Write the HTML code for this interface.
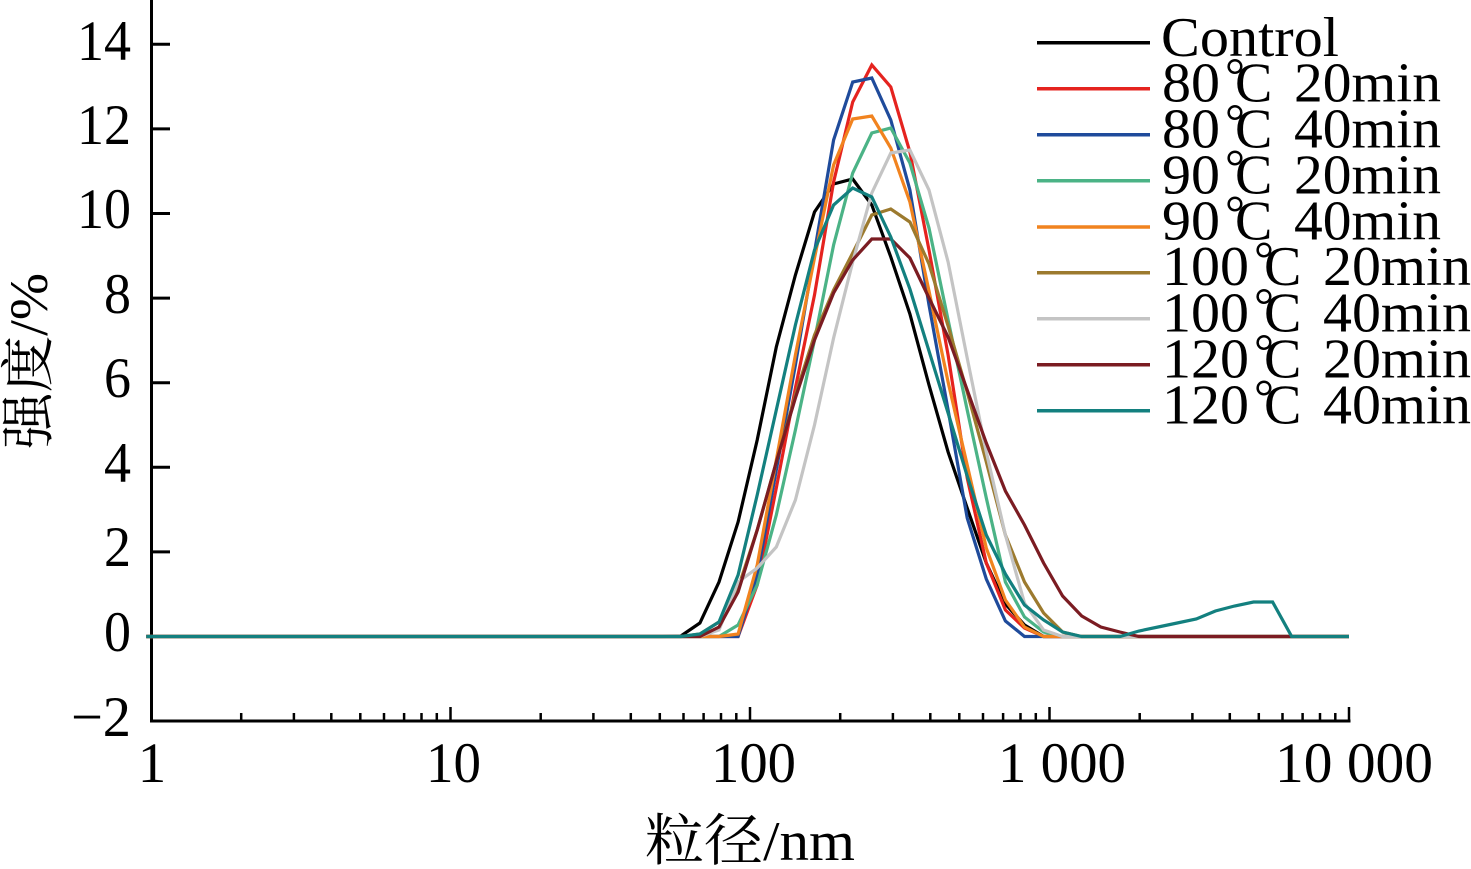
<!DOCTYPE html>
<html>
<head>
<meta charset="utf-8">
<style>
html,body{margin:0;padding:0;background:#fff;}
svg{display:block;}
text{font-family:"Liberation Serif","Noto Serif CJK SC",serif;fill:#000;}
</style>
</head>
<body>
<svg width="1471" height="869" viewBox="0 0 1471 869" xmlns="http://www.w3.org/2000/svg">
<rect width="1471" height="869" fill="#fff"/>

<!-- Axes -->
<g stroke="#000" fill="none">
  <line x1="151.5" y1="0" x2="151.5" y2="722.5" stroke-width="3"/>
  <line x1="150" y1="721" x2="1350.5" y2="721" stroke-width="3"/>
  <!-- y ticks -->
  <g stroke-width="3">
    <line x1="151" y1="44.3" x2="170" y2="44.3"/>
    <line x1="151" y1="128.9" x2="170" y2="128.9"/>
    <line x1="151" y1="213.5" x2="170" y2="213.5"/>
    <line x1="151" y1="298.1" x2="170" y2="298.1"/>
    <line x1="151" y1="382.7" x2="170" y2="382.7"/>
    <line x1="151" y1="467.3" x2="170" y2="467.3"/>
    <line x1="151" y1="551.9" x2="170" y2="551.9"/>
    <line x1="151" y1="636.5" x2="170" y2="636.5"/>
  </g>
  <!-- x major ticks -->
  <g stroke-width="2.5">
    <line x1="450.5" y1="721" x2="450.5" y2="707"/>
    <line x1="750" y1="721" x2="750" y2="707"/>
    <line x1="1049.5" y1="721" x2="1049.5" y2="707"/>
    <line x1="1349" y1="721" x2="1349" y2="707"/>
  </g>
  <!-- x minor ticks -->
  <g stroke-width="2.5">
    <line x1="241.2" y1="721" x2="241.2" y2="713"/><line x1="293.9" y1="721" x2="293.9" y2="713"/><line x1="331.3" y1="721" x2="331.3" y2="713"/><line x1="360.3" y1="721" x2="360.3" y2="713"/><line x1="384" y1="721" x2="384" y2="713"/><line x1="404.1" y1="721" x2="404.1" y2="713"/><line x1="421.5" y1="721" x2="421.5" y2="713"/><line x1="436.8" y1="721" x2="436.8" y2="713"/>
    <line x1="540.7" y1="721" x2="540.7" y2="713"/><line x1="593.4" y1="721" x2="593.4" y2="713"/><line x1="630.8" y1="721" x2="630.8" y2="713"/><line x1="659.8" y1="721" x2="659.8" y2="713"/><line x1="683.5" y1="721" x2="683.5" y2="713"/><line x1="703.6" y1="721" x2="703.6" y2="713"/><line x1="721" y1="721" x2="721" y2="713"/><line x1="736.3" y1="721" x2="736.3" y2="713"/>
    <line x1="840.2" y1="721" x2="840.2" y2="713"/><line x1="892.9" y1="721" x2="892.9" y2="713"/><line x1="930.3" y1="721" x2="930.3" y2="713"/><line x1="959.3" y1="721" x2="959.3" y2="713"/><line x1="983" y1="721" x2="983" y2="713"/><line x1="1003.1" y1="721" x2="1003.1" y2="713"/><line x1="1020.5" y1="721" x2="1020.5" y2="713"/><line x1="1035.8" y1="721" x2="1035.8" y2="713"/>
    <line x1="1139.7" y1="721" x2="1139.7" y2="713"/><line x1="1192.4" y1="721" x2="1192.4" y2="713"/><line x1="1229.8" y1="721" x2="1229.8" y2="713"/><line x1="1258.8" y1="721" x2="1258.8" y2="713"/><line x1="1282.5" y1="721" x2="1282.5" y2="713"/><line x1="1302.6" y1="721" x2="1302.6" y2="713"/><line x1="1320" y1="721" x2="1320" y2="713"/><line x1="1335.3" y1="721" x2="1335.3" y2="713"/>
  </g>
</g>

<!-- Y tick labels -->
<g font-size="57" text-anchor="end">
  <text x="131" y="60" textLength="54" lengthAdjust="spacingAndGlyphs">14</text>
  <text x="131" y="144" textLength="54" lengthAdjust="spacingAndGlyphs">12</text>
  <text x="131" y="228" textLength="54" lengthAdjust="spacingAndGlyphs">10</text>
  <text x="131" y="313" textLength="27" lengthAdjust="spacingAndGlyphs">8</text>
  <text x="131" y="397" textLength="27" lengthAdjust="spacingAndGlyphs">6</text>
  <text x="131" y="482" textLength="27" lengthAdjust="spacingAndGlyphs">4</text>
  <text x="131" y="566" textLength="27" lengthAdjust="spacingAndGlyphs">2</text>
  <text x="131" y="651" textLength="27" lengthAdjust="spacingAndGlyphs">0</text>
  <text x="131" y="736" textLength="60" lengthAdjust="spacingAndGlyphs">−2</text>
</g>

<!-- X tick labels -->
<g font-size="57">
  <text x="152" y="782" text-anchor="middle">1</text>
  <text x="426" y="782" textLength="55" lengthAdjust="spacingAndGlyphs">10</text>
  <text x="711" y="782" textLength="85" lengthAdjust="spacingAndGlyphs">100</text>
  <text x="998" y="782" textLength="128" lengthAdjust="spacingAndGlyphs">1 000</text>
  <text x="1275" y="782" textLength="158" lengthAdjust="spacingAndGlyphs">10 000</text>
</g>

<!-- Axis titles -->
<text x="645" y="860" font-size="56" textLength="210" lengthAdjust="spacingAndGlyphs">粒径/nm</text>
<text transform="translate(47,449) rotate(-90)" x="0" y="0" font-size="54" textLength="176" lengthAdjust="spacingAndGlyphs">强度/%</text>

<!-- Curves -->
<g fill="none" stroke-width="3.2" stroke-linejoin="miter">
  <polyline stroke="#000000" points="146.3,636.5 661.8,636.5 680.9,636 699.9,623 719,582 738.1,522 757.2,440 776.3,347 795.4,275 814.5,212 833.6,184 852.7,179 871.8,205 890.8,257 909.9,314 929,385 948.1,452 967.2,508 986.3,563 1005.4,604 1024.5,625 1043.6,636.5 1349,636.5"/>
  <polyline stroke="#e5231f" points="146.3,636.5 738.1,636.5 757.2,585 776.3,488 795.4,388 814.5,295 833.6,182 852.7,102 871.8,65 890.8,87 909.9,152 929,250 948.1,355 967.2,478 986.3,563 1005.4,610 1024.5,628 1043.6,636.5 1349,636.5"/>
  <polyline stroke="#1f4b9b" points="146.3,636.5 738.1,636.5 757.2,575 776.3,470 795.4,365 814.5,252 833.6,140 852.7,82 871.8,78 890.8,120 909.9,190 929,305 948.1,410 967.2,518 986.3,579 1005.4,621 1024.5,636.5 1349,636.5"/>
  <polyline stroke="#4bb386" points="146.3,636.5 719,636.5 738.1,625 757.2,585 776.3,515 795.4,430 814.5,340 833.6,245 852.7,173 871.8,133 890.8,128 909.9,163 929,228 948.1,320 967.2,410 986.3,498 1005.4,582 1024.5,617 1043.6,632 1062.6,636.5 1349,636.5"/>
  <polyline stroke="#f1831f" points="146.3,636.5 719,636.5 738.1,634 757.2,565 776.3,460 795.4,355 814.5,258 833.6,165 852.7,119 871.8,116 890.8,148 909.9,202 929,291 948.1,382 967.2,465 986.3,548 1005.4,600 1024.5,627 1043.6,636.5 1349,636.5"/>
  <polyline stroke="#9c7a2e" points="146.3,636.5 680.9,636.5 699.9,634 719,622 738.1,588 757.2,530 776.3,462 795.4,395 814.5,335 833.6,290 852.7,253 871.8,215 890.8,209 909.9,222 929,264 948.1,326 967.2,392 986.3,462 1005.4,535 1024.5,582 1043.6,613 1062.6,632 1081.7,636.5 1349,636.5"/>
  <polyline stroke="#c4c4c4" points="146.3,636.5 699.9,636.5 719,630 738.1,582 757.2,568 776.3,547 795.4,500 814.5,425 833.6,338 852.7,262 871.8,193 890.8,153 909.9,150 929,190 948.1,262 967.2,358 986.3,452 1005.4,535 1024.5,603 1043.6,630 1062.6,636.5 1349,636.5"/>
  <polyline stroke="#7b1c22" points="146.3,636.5 699.9,636.5 719,627 738.1,592 757.2,530 776.3,462 795.4,398 814.5,340 833.6,293 852.7,260 871.8,239 890.8,239 909.9,258 929,298 948.1,337 967.2,390 986.3,443 1005.4,491 1024.5,525 1043.6,563 1062.6,596 1081.7,616 1100.8,627 1119.9,632 1139,636.5 1349,636.5"/>
  <polyline stroke="#13807f" points="146.3,636.5 680.9,636.5 699.9,634 719,622 738.1,575 757.2,495 776.3,410 795.4,325 814.5,250 833.6,205 852.7,188 871.8,197 890.8,237 909.9,289 929,351 948.1,413 967.2,476 986.3,535 1005.4,574 1024.5,605 1043.6,620 1062.6,632 1081.7,636.5 1119.9,636.5 1139,631 1158.1,627 1177.2,623 1196.3,619 1215.4,611 1234.5,606 1253.5,602 1272.6,602 1291.7,636.5 1349,636.5"/>
</g>

<!-- Legend lines -->
<g stroke-width="3.5">
  <line x1="1037" y1="42.7" x2="1150" y2="42.7" stroke="#000000"/>
  <line x1="1037" y1="88.7" x2="1150" y2="88.7" stroke="#e5231f"/>
  <line x1="1037" y1="134.7" x2="1150" y2="134.7" stroke="#1f4b9b"/>
  <line x1="1037" y1="180.7" x2="1150" y2="180.7" stroke="#4bb386"/>
  <line x1="1037" y1="227" x2="1150" y2="227" stroke="#f1831f"/>
  <line x1="1037" y1="272.7" x2="1150" y2="272.7" stroke="#9c7a2e"/>
  <line x1="1037" y1="318.7" x2="1150" y2="318.7" stroke="#c4c4c4"/>
  <line x1="1037" y1="364.7" x2="1150" y2="364.7" stroke="#7b1c22"/>
  <line x1="1037" y1="410.7" x2="1150" y2="410.7" stroke="#13807f"/>
</g>

<!-- Legend text -->
<g font-size="56">
  <text x="1161" y="56" textLength="178" lengthAdjust="spacingAndGlyphs">Control</text>

  <text x="1162" y="101.7" textLength="58" lengthAdjust="spacingAndGlyphs">80</text>
  <text x="1225" y="92" font-size="50">°</text>
  <text x="1235" y="101.7">C</text>
  <text x="1294" y="101.7" textLength="147" lengthAdjust="spacingAndGlyphs">20min</text>

  <text x="1162" y="147.7" textLength="58" lengthAdjust="spacingAndGlyphs">80</text>
  <text x="1225" y="138" font-size="50">°</text>
  <text x="1235" y="147.7">C</text>
  <text x="1294" y="147.7" textLength="147" lengthAdjust="spacingAndGlyphs">40min</text>

  <text x="1162" y="193.3" textLength="58" lengthAdjust="spacingAndGlyphs">90</text>
  <text x="1225" y="183.6" font-size="50">°</text>
  <text x="1235" y="193.3">C</text>
  <text x="1294" y="193.3" textLength="147" lengthAdjust="spacingAndGlyphs">20min</text>

  <text x="1162" y="239.3" textLength="58" lengthAdjust="spacingAndGlyphs">90</text>
  <text x="1225" y="229.6" font-size="50">°</text>
  <text x="1235" y="239.3">C</text>
  <text x="1294" y="239.3" textLength="147" lengthAdjust="spacingAndGlyphs">40min</text>

  <text x="1162" y="285" textLength="87" lengthAdjust="spacingAndGlyphs">100</text>
  <text x="1254" y="275.3" font-size="50">°</text>
  <text x="1264" y="285">C</text>
  <text x="1323" y="285" textLength="148" lengthAdjust="spacingAndGlyphs">20min</text>

  <text x="1162" y="331.7" textLength="87" lengthAdjust="spacingAndGlyphs">100</text>
  <text x="1254" y="322" font-size="50">°</text>
  <text x="1264" y="331.7">C</text>
  <text x="1323" y="331.7" textLength="148" lengthAdjust="spacingAndGlyphs">40min</text>

  <text x="1162" y="377.7" textLength="87" lengthAdjust="spacingAndGlyphs">120</text>
  <text x="1254" y="368" font-size="50">°</text>
  <text x="1264" y="377.7">C</text>
  <text x="1323" y="377.7" textLength="148" lengthAdjust="spacingAndGlyphs">20min</text>

  <text x="1162" y="423.3" textLength="87" lengthAdjust="spacingAndGlyphs">120</text>
  <text x="1254" y="413.6" font-size="50">°</text>
  <text x="1264" y="423.3">C</text>
  <text x="1323" y="423.3" textLength="148" lengthAdjust="spacingAndGlyphs">40min</text>
</g>
</svg>
</body>
</html>
